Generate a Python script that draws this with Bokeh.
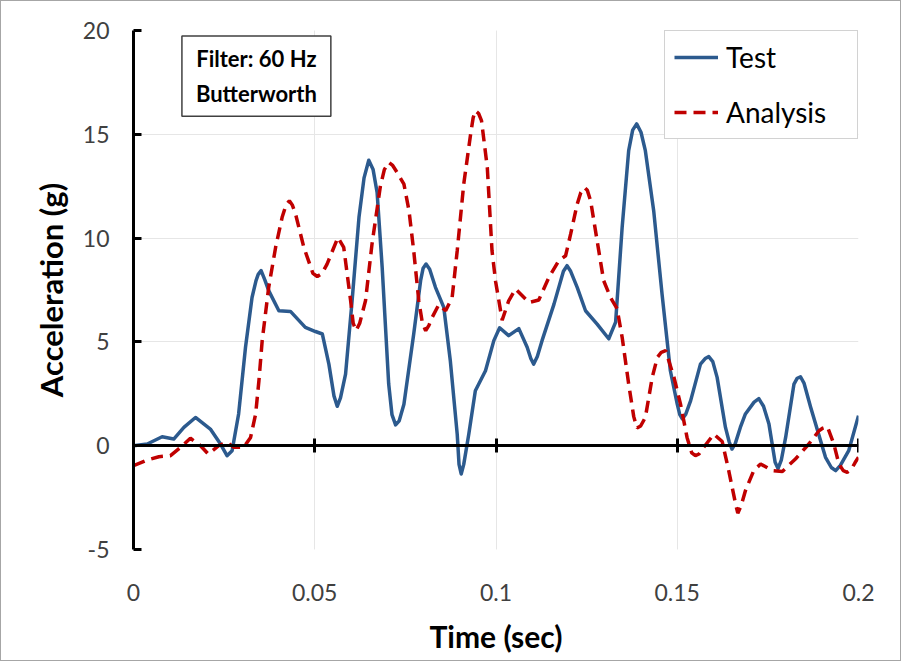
from bokeh.plotting import figure
from bokeh.models import (Range1d, LinearAxis, FixedTicker, Label, Legend,
                          LegendItem, Grid)
from bokeh.embed import file_html
from bokeh.resources import INLINE

# ---------------- data ----------------
test_t = [0.0, 0.0038, 0.0079, 0.0111, 0.0139, 0.0171, 0.0212, 0.024, 0.0258,
          0.0272, 0.029, 0.0309, 0.0327, 0.0338, 0.0344, 0.0352, 0.0362, 0.0373,
          0.0401, 0.0433, 0.0474, 0.0502, 0.0521, 0.0539, 0.0553, 0.0562,
          0.0571, 0.0585, 0.0603, 0.0622, 0.0636, 0.0649, 0.0661, 0.0672,
          0.0686, 0.0704, 0.0713, 0.0723, 0.0733, 0.0746, 0.0773, 0.0792,
          0.0799, 0.0807, 0.0817, 0.0833, 0.0856, 0.0874, 0.0893, 0.0898,
          0.0904, 0.0911, 0.0925, 0.0943, 0.0971, 0.0994, 0.101, 0.1035,
          0.1063, 0.1086, 0.1096, 0.1104, 0.1114, 0.1127, 0.116, 0.1186,
          0.1196, 0.1206, 0.1224, 0.1247, 0.1279, 0.1311, 0.133, 0.1348,
          0.1366, 0.1377, 0.1388, 0.14, 0.1412, 0.1435, 0.1458, 0.1481, 0.15,
          0.1507, 0.1514, 0.1523, 0.1537, 0.1564, 0.1577, 0.1587, 0.1598,
          0.161, 0.1633, 0.1643, 0.1651, 0.166, 0.1674, 0.1688, 0.1712,
          0.1725, 0.1738, 0.1753, 0.177, 0.1778, 0.1787, 0.1799, 0.1822,
          0.1831, 0.184, 0.185, 0.1868, 0.1909, 0.1925, 0.1937, 0.195,
          0.1973, 0.2]
test_g = [0.0, 0.08, 0.43, 0.32, 0.88, 1.36, 0.80, 0.08, -0.48,
          -0.24, 1.53, 4.74, 7.14, 7.95, 8.25, 8.43, 8.0, 7.47,
          6.5, 6.47, 5.7, 5.5, 5.38, 3.93, 2.4, 1.9,
          2.3, 3.45, 6.98, 11.0, 12.9, 13.75, 13.3, 12.2,
          8.59, 2.97, 1.5, 1.0, 1.2, 2.0, 5.38, 7.95,
          8.55, 8.75, 8.5, 7.63, 6.66, 4.09, 0.56, -0.9,
          -1.36, -0.9, 0.56, 2.65, 3.61, 5.06, 5.68, 5.3,
          5.64, 4.74, 4.2, 3.93, 4.3, 5.06, 6.82, 8.4,
          8.67, 8.4, 7.63, 6.5, 5.86, 5.15, 5.95, 10.52,
          14.21, 15.2, 15.5, 15.1, 14.21, 11.32, 7.31, 3.61, 2.0,
          1.5, 1.29, 1.5, 2.17, 3.93, 4.2, 4.29, 4.05,
          3.29, 0.88, 0.2, -0.16, 0.1, 0.88, 1.53, 2.1,
          2.27, 1.9, 1.04, -0.8, -1.1, -0.7, 0.4, 2.97,
          3.25, 3.32, 3.0, 1.85, -0.56, -1.05, -1.2, -0.95,
          -0.24, 1.45]

analysis_t = [0.0, 0.0038, 0.007, 0.0102, 0.013, 0.0157, 0.0185, 0.0206,
              0.0235, 0.0258, 0.0277, 0.0304, 0.0323, 0.0337, 0.0346, 0.0355,
              0.0373, 0.0392, 0.041, 0.0421, 0.043, 0.0438, 0.0447, 0.047,
              0.0495, 0.0507, 0.052, 0.0534, 0.0564, 0.058, 0.0599, 0.0606,
              0.0614, 0.0624, 0.064, 0.0658, 0.0681, 0.0692, 0.0704, 0.0715,
              0.0727, 0.0746, 0.076, 0.0773, 0.0787, 0.0797, 0.0806, 0.0815,
              0.0824, 0.0842, 0.0861, 0.0879, 0.0893, 0.0911, 0.093, 0.0937,
              0.0943, 0.0952, 0.096, 0.0976, 0.0989, 0.0999, 0.1017, 0.1035,
              0.1054, 0.1091, 0.1118, 0.1146, 0.1173, 0.1192, 0.1206, 0.1224,
              0.1234, 0.1244, 0.1252, 0.1261, 0.1279, 0.1297, 0.1316, 0.1334,
              0.1348, 0.1366, 0.138, 0.1389, 0.1399, 0.1412, 0.1431, 0.1445,
              0.1456, 0.1468, 0.1491, 0.1509, 0.1527, 0.154, 0.155, 0.156,
              0.1573, 0.1601, 0.1624, 0.1642, 0.1661, 0.1667, 0.1676, 0.1688,
              0.1711, 0.173, 0.1762, 0.179, 0.1826, 0.1863, 0.1891, 0.1902,
              0.1914, 0.1932, 0.1946, 0.1958, 0.1969, 0.198, 0.1991, 0.2]
analysis_g = [-0.96, -0.69, -0.53, -0.48, -0.08, 0.36, 0.0, -0.40,
              0.0, 0.16, -0.08, -0.08, 0.40, 1.53, 3.13, 5.06,
              7.63, 9.55, 11.0, 11.6, 11.8, 11.6, 11.16, 9.55,
              8.3, 8.15, 8.3, 8.75, 10.03, 9.55, 6.98, 5.9,
              5.54, 5.9, 6.98, 9.72, 12.5, 13.3, 13.65, 13.5,
              13.17, 12.6, 11.32, 9.39, 6.98, 5.9, 5.54, 5.8,
              6.18, 6.79, 6.5, 7.14, 9.39, 12.6, 15.01, 15.8,
              16.14, 16.0, 15.66, 13.4, 9.39, 7.9, 6.05, 6.98,
              7.55, 6.9, 7.02, 8.11, 8.91, 9.15, 10.2, 11.64,
              12.2, 12.44, 12.3, 11.8, 9.87, 7.95, 7.14, 6.6,
              5.22, 2.97, 1.4, 0.85, 0.95, 1.36, 3.29, 4.25,
              4.5, 4.58, 3.29, 2.0, 0.4, -0.35, -0.48, -0.4,
              -0.08, 0.56, 0.2, -1.2, -2.81, -3.25, -2.9, -2.17,
              -1.2, -0.88, -1.2, -1.24, -0.64, 0.08, 0.72, 0.85,
              0.92, 0.08, -0.88, -1.2, -1.28, -1.15, -0.8, -0.56]

x_ticks = [0, 0.05, 0.1, 0.15, 0.2]
x_tick_labels = ["0", "0.05", "0.1", "0.15", "0.2"]
y_ticks = [-5, 0, 5, 10, 15, 20]
y_tick_labels = ["-5", "0", "5", "10", "15", "20"]
series_names = ["Test", "Analysis"]
note_text = "Filter: 60 Hz\nButterworth"

FONT = "Lato"

# ---------------- figure ----------------
p = figure(width=901, height=661, x_range=Range1d(0, 0.2), y_range=Range1d(-5, 20),
           output_backend="svg", toolbar_location=None, x_axis_location=None,
           min_border_left=132, min_border_right=44, min_border_top=29,
           min_border_bottom=113)
p.styles = {"border": "1px solid #a6a6a6"}
p.outline_line_color = None
p.background_fill_color = "white"
p.border_fill_color = "white"

# grids
p.ygrid.ticker = FixedTicker(ticks=y_ticks)
p.ygrid.grid_line_color = "#e6e6e6"
p.ygrid.grid_line_width = 1
xgrid = Grid(dimension=0, ticker=FixedTicker(ticks=x_ticks),
             grid_line_color="#e6e6e6", grid_line_width=1)
p.add_layout(xgrid)

# y axis
ya = p.yaxis[0]
ya.ticker = FixedTicker(ticks=y_ticks)
ya.major_label_overrides = {t: l for t, l in zip(y_ticks, y_tick_labels)}
ya.axis_line_width = 3
ya.axis_line_color = "black"
ya.major_tick_in = 8
ya.major_tick_out = 0
ya.major_tick_line_width = 3
ya.major_tick_line_color = "black"
ya.minor_tick_line_color = None
ya.major_label_text_font = FONT
ya.major_label_text_font_size = "23px"
ya.major_label_text_color = "#404040"
ya.major_label_standoff = 24
ya.axis_label = "Acceleration (g)"
ya.axis_label_text_font = FONT
ya.axis_label_text_font_style = "bold"
ya.axis_label_text_font_size = "31px"
ya.axis_label_text_color = "black"
ya.axis_label_standoff = 10

# bottom axis: labels only
xa = LinearAxis(ticker=FixedTicker(ticks=x_ticks),
                major_label_overrides={t: l for t, l in zip(x_ticks, x_tick_labels)},
                axis_line_color=None, major_tick_line_color=None,
                minor_tick_line_color=None,
                major_label_text_font=FONT, major_label_text_font_size="23px",
                major_label_text_color="#404040", major_label_standoff=28,
                axis_label="Time (sec)", axis_label_text_font=FONT,
                axis_label_text_font_style="bold", axis_label_text_font_size="30px",
                axis_label_text_color="black", axis_label_standoff=14)
p.add_layout(xa, "below")

# axis line crossing at y = 0 (no labels)
za = LinearAxis(fixed_location=0, ticker=FixedTicker(ticks=x_ticks),
                major_label_overrides={t: "" for t in x_ticks},
                axis_line_width=3, axis_line_color="black",
                major_tick_in=7, major_tick_out=7, major_tick_line_width=3,
                major_tick_line_color="black", minor_tick_line_color=None,
                major_label_standoff=0)
p.add_layout(za, "above")

# series
r_test = p.line(test_t, test_g, line_color="#2C5A8E", line_width=3.5,
                line_join="round")
r_an = p.line(analysis_t, analysis_g, line_color="#C00000", line_width=3.5,
              line_dash="12 7")

legend = Legend(items=[LegendItem(label=series_names[0], renderers=[r_test]),
                       LegendItem(label=series_names[1], renderers=[r_an])],
                location="top_right", margin=0, padding=9, spacing=21,
                label_height=30, glyph_height=30, glyph_width=44,
                label_standoff=8, label_width=122,
                label_text_font=FONT, label_text_font_size="28px",
                label_text_color="black",
                border_line_color="#a6a6a6", border_line_width=1,
                background_fill_color="white", background_fill_alpha=1)
p.add_layout(legend)

note = Label(x=0.0339, y=17.8, text=note_text, anchor="center",
             text_align="center", text_baseline="middle",
             text_font=FONT, text_font_style="bold", text_font_size="22px",
             text_color="black", text_line_height=1.3,
             border_line_color="#404040", border_line_width=1.5,
             background_fill_color="white", padding=(14, 9))
p.add_layout(note)

open("out.html", "w").write(file_html(p, INLINE))
